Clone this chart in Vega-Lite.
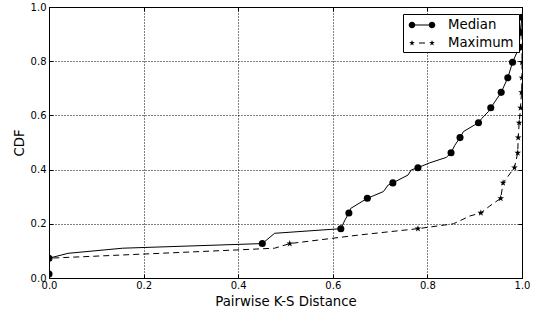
{
  "$schema": "https://vega.github.io/schema/vega-lite/v6.json",
  "width": 473,
  "height": 271,
  "autosize": {"type": "none"},
  "padding": {"left": 49, "top": 7, "right": 15, "bottom": 38},
  "background": "white",
  "config": {
    "view": {"stroke": "black", "strokeWidth": 1},
    "font": "DejaVu Sans"
  },
  "datasets": {
    "curve": [
      {"series": "Median", "i": 1, "x": 0, "y": 0.015},
      {"series": "Median", "i": 2, "x": 0, "y": 0.073},
      {"series": "Median", "i": 3, "x": 0.04, "y": 0.091},
      {"series": "Median", "i": 4, "x": 0.156, "y": 0.11},
      {"series": "Median", "i": 5, "x": 0.451, "y": 0.127},
      {"series": "Median", "i": 6, "x": 0.477, "y": 0.165},
      {"series": "Median", "i": 7, "x": 0.617, "y": 0.182},
      {"series": "Median", "i": 8, "x": 0.626, "y": 0.215},
      {"series": "Median", "i": 9, "x": 0.634, "y": 0.24},
      {"series": "Median", "i": 10, "x": 0.638, "y": 0.257},
      {"series": "Median", "i": 11, "x": 0.673, "y": 0.294},
      {"series": "Median", "i": 12, "x": 0.707, "y": 0.319},
      {"series": "Median", "i": 13, "x": 0.717, "y": 0.343},
      {"series": "Median", "i": 14, "x": 0.727, "y": 0.351},
      {"series": "Median", "i": 15, "x": 0.759, "y": 0.38},
      {"series": "Median", "i": 16, "x": 0.766, "y": 0.399},
      {"series": "Median", "i": 17, "x": 0.78, "y": 0.407},
      {"series": "Median", "i": 18, "x": 0.805, "y": 0.425},
      {"series": "Median", "i": 19, "x": 0.84, "y": 0.445},
      {"series": "Median", "i": 20, "x": 0.85, "y": 0.462},
      {"series": "Median", "i": 21, "x": 0.858, "y": 0.49},
      {"series": "Median", "i": 22, "x": 0.869, "y": 0.518},
      {"series": "Median", "i": 23, "x": 0.876, "y": 0.54},
      {"series": "Median", "i": 24, "x": 0.9, "y": 0.565},
      {"series": "Median", "i": 25, "x": 0.908, "y": 0.573},
      {"series": "Median", "i": 26, "x": 0.915, "y": 0.589},
      {"series": "Median", "i": 27, "x": 0.929, "y": 0.614},
      {"series": "Median", "i": 28, "x": 0.934, "y": 0.628},
      {"series": "Median", "i": 29, "x": 0.956, "y": 0.685},
      {"series": "Median", "i": 30, "x": 0.97, "y": 0.739},
      {"series": "Median", "i": 31, "x": 0.98, "y": 0.796},
      {"series": "Median", "i": 32, "x": 0.994, "y": 0.851},
      {"series": "Median", "i": 33, "x": 0.996, "y": 0.907},
      {"series": "Median", "i": 34, "x": 1.0, "y": 0.962},
      {"series": "Maximum", "i": 1, "x": 0, "y": 0.015},
      {"series": "Maximum", "i": 2, "x": 0, "y": 0.073},
      {"series": "Maximum", "i": 3, "x": 0.403, "y": 0.104},
      {"series": "Maximum", "i": 4, "x": 0.477, "y": 0.11},
      {"series": "Maximum", "i": 5, "x": 0.509, "y": 0.127},
      {"series": "Maximum", "i": 6, "x": 0.657, "y": 0.159},
      {"series": "Maximum", "i": 7, "x": 0.78, "y": 0.182},
      {"series": "Maximum", "i": 8, "x": 0.855, "y": 0.2},
      {"series": "Maximum", "i": 9, "x": 0.89, "y": 0.229},
      {"series": "Maximum", "i": 10, "x": 0.913, "y": 0.24},
      {"series": "Maximum", "i": 11, "x": 0.932, "y": 0.266},
      {"series": "Maximum", "i": 12, "x": 0.955, "y": 0.294},
      {"series": "Maximum", "i": 13, "x": 0.96, "y": 0.351},
      {"series": "Maximum", "i": 14, "x": 0.984, "y": 0.407},
      {"series": "Maximum", "i": 15, "x": 0.991, "y": 0.462},
      {"series": "Maximum", "i": 16, "x": 0.992, "y": 0.518},
      {"series": "Maximum", "i": 17, "x": 0.994, "y": 0.573},
      {"series": "Maximum", "i": 18, "x": 0.997, "y": 0.628},
      {"series": "Maximum", "i": 19, "x": 0.999, "y": 0.685},
      {"series": "Maximum", "i": 20, "x": 1.0, "y": 0.739},
      {"series": "Maximum", "i": 21, "x": 1.0, "y": 0.796},
      {"series": "Maximum", "i": 22, "x": 1.0, "y": 0.851},
      {"series": "Maximum", "i": 23, "x": 1.0, "y": 0.907},
      {"series": "Maximum", "i": 24, "x": 1.0, "y": 0.962}
    ],
    "markers": [
      {"series": "Median", "x": 0, "y": 0.015},
      {"series": "Median", "x": 0, "y": 0.073},
      {"series": "Median", "x": 0.451, "y": 0.127},
      {"series": "Median", "x": 0.617, "y": 0.182},
      {"series": "Median", "x": 0.634, "y": 0.24},
      {"series": "Median", "x": 0.673, "y": 0.294},
      {"series": "Median", "x": 0.727, "y": 0.351},
      {"series": "Median", "x": 0.78, "y": 0.407},
      {"series": "Median", "x": 0.85, "y": 0.462},
      {"series": "Median", "x": 0.869, "y": 0.518},
      {"series": "Median", "x": 0.908, "y": 0.573},
      {"series": "Median", "x": 0.934, "y": 0.628},
      {"series": "Median", "x": 0.956, "y": 0.685},
      {"series": "Median", "x": 0.97, "y": 0.739},
      {"series": "Median", "x": 0.98, "y": 0.796},
      {"series": "Median", "x": 0.994, "y": 0.851},
      {"series": "Median", "x": 0.996, "y": 0.907},
      {"series": "Median", "x": 1.0, "y": 0.962},
      {"series": "Maximum", "x": 0, "y": 0.015},
      {"series": "Maximum", "x": 0, "y": 0.073},
      {"series": "Maximum", "x": 0.509, "y": 0.127},
      {"series": "Maximum", "x": 0.78, "y": 0.182},
      {"series": "Maximum", "x": 0.913, "y": 0.24},
      {"series": "Maximum", "x": 0.955, "y": 0.294},
      {"series": "Maximum", "x": 0.96, "y": 0.351},
      {"series": "Maximum", "x": 0.984, "y": 0.407},
      {"series": "Maximum", "x": 0.991, "y": 0.462},
      {"series": "Maximum", "x": 0.992, "y": 0.518},
      {"series": "Maximum", "x": 0.994, "y": 0.573},
      {"series": "Maximum", "x": 0.997, "y": 0.628},
      {"series": "Maximum", "x": 0.999, "y": 0.685},
      {"series": "Maximum", "x": 1.0, "y": 0.739},
      {"series": "Maximum", "x": 1.0, "y": 0.796},
      {"series": "Maximum", "x": 1.0, "y": 0.851},
      {"series": "Maximum", "x": 1.0, "y": 0.907},
      {"series": "Maximum", "x": 1.0, "y": 0.962}
    ]
  },
  "layer": [
    {
      "data": {"name": "curve"},
      "transform": [{"filter": "datum.series === 'Median'"}],
      "mark": {"type": "line", "color": "black", "strokeWidth": 1, "clip": true},
      "encoding": {
        "x": {
          "field": "x", "type": "quantitative",
          "scale": {"domain": [0, 1], "nice": false, "zero": false},
          "axis": {
            "orient": "bottom", "values": [0, 0.2, 0.4, 0.6, 0.8, 1], "format": ".1f",
            "title": "Pairwise K-S Distance", "grid": true, "gridDash": [1, 2], "gridColor": "black",
            "gridOpacity": 1, "gridWidth": 1, "domain": false, "tickSize": -4, "tickColor": "black",
            "labelPadding": 6, "labelFontSize": 10, "labelColor": "black", "labelFont": "DejaVu Sans",
            "labelFlush": false, "titleFontSize": 13.3, "titleFontWeight": "normal", "titleColor": "black",
            "titleFont": "DejaVu Sans", "titlePadding": 4
          }
        },
        "y": {
          "field": "y", "type": "quantitative",
          "scale": {"domain": [0, 1], "nice": false, "zero": false},
          "axis": {
            "orient": "left", "values": [0, 0.2, 0.4, 0.6, 0.8, 1], "format": ".1f",
            "title": "CDF", "grid": true, "gridDash": [1, 2], "gridColor": "black",
            "gridOpacity": 1, "gridWidth": 1, "domain": false, "tickSize": -4, "tickColor": "black",
            "labelPadding": 7, "labelFontSize": 10, "labelColor": "black", "labelFont": "DejaVu Sans",
            "labelFlush": false, "titleFontSize": 13.3, "titleFontWeight": "normal", "titleColor": "black",
            "titleFont": "DejaVu Sans", "titlePadding": 4
          }
        },
        "order": {"field": "i", "type": "quantitative"}
      }
    },
    {
      "data": {"name": "curve"},
      "transform": [{"filter": "datum.series === 'Maximum'"}],
      "mark": {"type": "line", "color": "black", "strokeWidth": 1, "strokeDash": [6, 4], "clip": true},
      "encoding": {
        "x": {"field": "x", "type": "quantitative", "scale": {"domain": [0, 1], "nice": false, "zero": false}, "axis": null},
        "y": {"field": "y", "type": "quantitative", "scale": {"domain": [0, 1], "nice": false, "zero": false}, "axis": null},
        "order": {"field": "i", "type": "quantitative"}
      }
    },
    {
      "data": {"name": "markers"},
      "transform": [{"filter": "datum.series === 'Median'"}],
      "mark": {"type": "point", "shape": "circle", "filled": true, "color": "black", "opacity": 1, "size": 50, "clip": true},
      "encoding": {
        "x": {
          "field": "x", "type": "quantitative",
          "scale": {"domain": [0, 1], "nice": false, "zero": false},
          "axis": {
            "orient": "top", "values": [0, 0.2, 0.4, 0.6, 0.8, 1], "labels": false, "title": null,
            "grid": false, "domain": false, "tickSize": -4, "tickColor": "black"
          }
        },
        "y": {
          "field": "y", "type": "quantitative",
          "scale": {"domain": [0, 1], "nice": false, "zero": false},
          "axis": {
            "orient": "right", "values": [0, 0.2, 0.4, 0.6, 0.8, 1], "labels": false, "title": null,
            "grid": false, "domain": false, "tickSize": -4, "tickColor": "black"
          }
        }
      }
    },
    {
      "data": {"name": "markers"},
      "transform": [{"filter": "datum.series === 'Maximum'"}],
      "mark": {"type": "point", "shape": "M0,-1L0.2245,-0.309L0.951,-0.309L0.363,0.118L0.588,0.809L0,0.382L-0.588,0.809L-0.363,0.118L-0.951,-0.309L-0.2245,-0.309Z", "filled": true, "color": "black", "opacity": 1, "size": 50, "clip": true},
      "encoding": {
        "x": {"field": "x", "type": "quantitative", "scale": {"domain": [0, 1], "nice": false, "zero": false}, "axis": null},
        "y": {"field": "y", "type": "quantitative", "scale": {"domain": [0, 1], "nice": false, "zero": false}, "axis": null}
      }
    },
    {
      "data": {"name": "markers"},
      "mark": {"type": "point", "filled": true, "fill": "black", "stroke": "black", "strokeWidth": 1, "opacity": 0, "size": 1, "clip": true},
      "encoding": {
        "x": {"field": "x", "type": "quantitative", "scale": {"domain": [0, 1], "nice": false, "zero": false}, "axis": null},
        "y": {"field": "y", "type": "quantitative", "scale": {"domain": [0, 1], "nice": false, "zero": false}, "axis": null},
        "shape": {
          "field": "series", "type": "nominal",
          "scale": {
            "domain": ["Median", "Maximum"],
            "range": [
              "M-1.176,-0.059L1.176,-0.059L1.176,0.059L-1.176,0.059ZM-0.786,0A0.39,0.39,0,1,1,-1.566,0A0.39,0.39,0,1,1,-0.786,0ZM1.566,0A0.39,0.39,0,1,1,0.786,0A0.39,0.39,0,1,1,1.566,0Z",
              "M-0.35,-0.059L0.35,-0.059L0.35,0.059L-0.35,0.059ZM-1.176,-0.353L-1.0968,-0.1091L-0.8403,-0.1091L-1.0479,0.0417L-0.9684,0.2856L-1.176,0.1348L-1.3836,0.2856L-1.3041,0.0417L-1.5117,-0.1091L-1.2552,-0.1091ZM1.176,-0.353L1.2552,-0.1091L1.5117,-0.1091L1.3041,0.0417L1.3836,0.2856L1.176,0.1348L0.9684,0.2856L1.0479,0.0417L0.8403,-0.1091L1.0968,-0.1091Z"
            ]
          },
          "legend": {
            "title": " ", "titleOrient": "right", "titlePadding": 3, "titleFontSize": 13.3,
            "orient": "none", "legendX": 354, "legendY": 7, "padding": 2,
            "strokeColor": "black", "fillColor": "white", "cornerRadius": 0,
            "symbolSize": 289, "symbolOffset": 8, "labelOffset": 17, "rowPadding": 2,
            "labelFontSize": 13.3, "labelFont": "DejaVu Sans", "labelColor": "black",
            "symbolOpacity": 1, "symbolStrokeWidth": 1, "symbolStrokeColor": "black", "symbolFillColor": "black"
          }
        }
      }
    }
  ],
  "resolve": {"axis": {"x": "independent", "y": "independent"}}
}
